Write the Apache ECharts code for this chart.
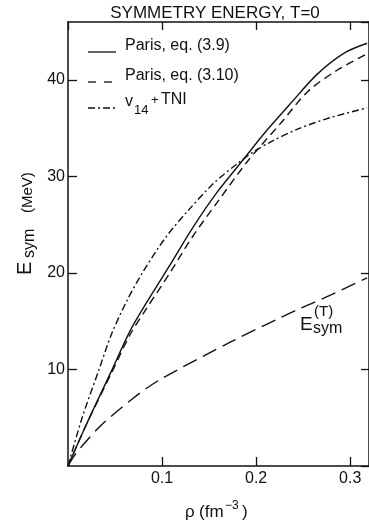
<!DOCTYPE html>
<html><head><meta charset="utf-8">
<script src="https://cdn.jsdelivr.net/npm/echarts@6/dist/echarts.min.js"></script>
<style>html,body{margin:0;padding:0;background:#fff}#c{width:369px;height:524px}</style>
</head><body><div id="c"></div>
<script>
// ---- data ----
const parisEq39Rho = [0, 0.02, 0.046, 0.066, 0.084, 0.107, 0.132, 0.158, 0.186, 0.209, 0.237, 0.265, 0.294, 0.318];
const parisEq39E   = [0, 4.4, 9.8, 14.0, 17.0, 20.6, 24.6, 28.3, 31.7, 34.5, 37.6, 40.6, 42.8, 43.8];

const parisEq310Rho = [0, 0.02, 0.046, 0.066, 0.084, 0.107, 0.132, 0.16, 0.192, 0.226, 0.255, 0.286, 0.318];
const parisEq310E   = [0, 4.4, 9.6, 13.6, 16.4, 19.8, 23.7, 27.5, 31.7, 35.5, 38.8, 41.0, 42.7];

const v14TniRho = [0, 0.015, 0.033, 0.046, 0.062, 0.079, 0.104, 0.128, 0.155, 0.181, 0.198, 0.216, 0.244, 0.279, 0.318];
const v14TniE   = [0, 5.0, 10.0, 13.6, 17.0, 20.0, 23.7, 26.5, 29.3, 31.4, 32.6, 33.6, 34.9, 36.1, 37.1];

const kineticRho = [0, 0.007, 0.017, 0.035, 0.069, 0.097, 0.174, 0.244, 0.279, 0.318];
const kineticE   = [0, 1.1, 2.3, 4.2, 7.0, 8.9, 12.9, 16.2, 17.7, 19.5];

const xTickLabels = ['0.1', '0.2', '0.3'];
const yTickLabels = ['10', '20', '30', '40'];
const titleText = 'SYMMETRY ENERGY, T=0';
const legendNames = ['Paris, eq. (3.9)', 'Paris, eq. (3.10)', 'v', '14', '+', 'TNI'];

// ---- chart ----
const FONT = '"Liberation Sans", Arial, sans-serif';
const INK = '#111';
const pairs = (xs, ys) => xs.map((x, i) => [x, ys[i]]);

const chart = echarts.init(document.getElementById('c'), null, {renderer: 'canvas'});

const axisLine = {show: true, onZero: false, lineStyle: {color: INK, width: 1.5}};
const tickStyle = {color: INK, width: 1.3};

function txt(text, x, y, size, align) {
  return {type: 'text', x: x, y: y, silent: true,
    style: {text: text, fill: INK, font: size + 'px ' + FONT, align: align || 'left', verticalAlign: 'middle'}};
}

const SM = 0.3;
const option = {
  animation: false,
  backgroundColor: '#fff',
  grid: {left: 68, top: 22, width: 304, height: 444},
  xAxis: [
    {type: 'value', min: 0, max: 0.32, interval: 0.1, position: 'bottom',
     axisLine: axisLine, splitLine: {show: false},
     axisTick: {inside: true, length: 9, lineStyle: tickStyle},
     axisLabel: {margin: 5, color: INK, fontSize: 16, fontFamily: FONT,
       showMinLabel: false, showMaxLabel: false,
       formatter: v => { const s = v.toFixed(1); return xTickLabels.includes(s) ? s : ''; }}},
    {type: 'value', min: 0, max: 0.32, interval: 0.1, position: 'top',
     axisLine: axisLine, splitLine: {show: false},
     axisTick: {inside: true, length: 8, lineStyle: tickStyle},
     axisLabel: {show: false}}
  ],
  yAxis: [
    {type: 'value', min: 0, max: 46, interval: 10, position: 'left',
     axisLine: axisLine, splitLine: {show: false},
     axisTick: {inside: true, length: 9, lineStyle: tickStyle},
     axisLabel: {margin: 3, color: INK, fontSize: 16, fontFamily: FONT,
       showMinLabel: false, showMaxLabel: false,
       formatter: v => { const s = String(Math.round(v)); return yTickLabels.includes(s) ? s : ''; }}},
    {type: 'value', min: 0, max: 46, interval: 10, position: 'right',
     axisLine: axisLine, splitLine: {show: false},
     axisTick: {inside: true, length: 8, lineStyle: tickStyle},
     axisLabel: {show: false}}
  ],
  series: [
    {name: legendNames[0], type: 'line', data: pairs(parisEq39Rho, parisEq39E), smooth: SM,
     showSymbol: false, lineStyle: {color: INK, width: 1.4, type: 'solid'}},
    {name: legendNames[1], type: 'line', data: pairs(parisEq310Rho, parisEq310E), smooth: SM,
     showSymbol: false, lineStyle: {color: INK, width: 1.4, type: [8, 5]}},
    {name: 'v14 + TNI', type: 'line', data: pairs(v14TniRho, v14TniE), smooth: SM,
     showSymbol: false, lineStyle: {color: INK, width: 1.4, type: [7, 3, 2, 3]}},
    {name: 'Esym(T)', type: 'line', data: pairs(kineticRho, kineticE), smooth: SM,
     showSymbol: false, lineStyle: {color: INK, width: 1.4, type: [15, 7]}}
  ],
  graphic: [
    txt(titleText, 215, 13.5, 17, 'center'),
    // legend
    {type: 'line', silent: true, shape: {x1: 88, y1: 52, x2: 116, y2: 52}, style: {stroke: INK, lineWidth: 1.3}},
    txt(legendNames[0], 125, 45.5, 16),
    {type: 'line', silent: true, shape: {x1: 88, y1: 82, x2: 116, y2: 82}, style: {stroke: INK, lineWidth: 1.3, lineDash: [8, 8]}},
    txt(legendNames[1], 125, 75.5, 16),
    {type: 'line', silent: true, shape: {x1: 88, y1: 108, x2: 116, y2: 108}, style: {stroke: INK, lineWidth: 1.3, lineDash: [7, 3, 2, 3]}},
    txt(legendNames[2], 125, 102, 16),
    txt(legendNames[3], 134, 110, 13),
    txt(legendNames[4], 151, 100, 13),
    txt(legendNames[5], 161, 100, 16),
    // x axis name
    txt('ρ', 185, 512, 17),
    txt('(fm', 199, 512, 17),
    txt('−3', 225, 506, 12),
    txt(')', 242, 512, 17),
    // y axis name (rotated)
    {type: 'group', x: 32, y: 275, rotation: Math.PI / 2, silent: true, children: [
      txt('E', 0, -7, 20),
      txt('sym', 17, -2.6, 16),
      txt('(MeV)', 62, -4.5, 15)
    ]},
    // curve label
    txt('E', 300, 325, 19),
    txt('(T)', 314, 312, 15),
    txt('sym', 313, 329, 16)
  ]
};
chart.setOption(option);
</script></body></html>
